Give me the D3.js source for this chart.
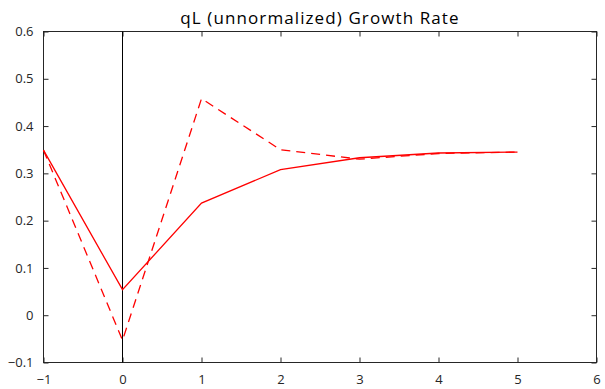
<!DOCTYPE html>
<html>
<head>
<meta charset="utf-8">
<script src="https://cdn.jsdelivr.net/npm/d3@7"></script>
<style>
  html, body { margin: 0; padding: 0; background: #fff; }
  svg { display: block; }
  text { font-family: "Open Sans", "Noto Sans", sans-serif; fill: #262626; }
</style>
</head>
<body>
<svg id="chart" width="605" height="389"></svg>
<script>
// Horizon (periods) and the two growth-rate paths
const periods = [-1, 0, 1, 2, 3, 4, 5];
const solidSeries = [0.349, 0.054, 0.237, 0.308, 0.333, 0.343, 0.345];
const dashedSeries = [0.349, -0.053, 0.458, 0.350, 0.330, 0.342, 0.345];
const xTicks = [-1, 0, 1, 2, 3, 4, 5, 6];
const yTicks = [-0.1, 0, 0.1, 0.2, 0.3, 0.4, 0.5, 0.6];
const titleText = "qL (unnormalized) Growth Rate";

const svg = d3.select("#chart");
const margin = { left: 43.5, top: 31.5, right: 596.5, bottom: 362.5 };

const x = d3.scaleLinear().domain([-1, 6]).range([margin.left, margin.right]);
const y = d3.scaleLinear().domain([-0.1, 0.6]).range([margin.bottom, margin.top]);

const axisColor = "#262626";
const tickLen = 5;

// Frame box
svg.append("rect")
  .attr("x", margin.left).attr("y", margin.top)
  .attr("width", margin.right - margin.left)
  .attr("height", margin.bottom - margin.top)
  .attr("fill", "none").attr("stroke", axisColor).attr("stroke-width", 1);

const fmt = d => (d === 0 ? "0" : d3.format("")(+d.toFixed(1)));

// Bottom axis (ticks point inward)
const gx = svg.append("g").attr("transform", `translate(0,${margin.bottom})`)
  .call(d3.axisBottom(x).tickValues(xTicks).tickSizeInner(-tickLen).tickSizeOuter(0).tickPadding(12).tickFormat(d3.format("d")));
// Top axis ticks
const gxt = svg.append("g").attr("transform", `translate(0,${margin.top})`)
  .call(d3.axisTop(x).tickValues(xTicks).tickSizeInner(-tickLen).tickSizeOuter(0).tickFormat(""));
// Left axis
const gy = svg.append("g").attr("transform", `translate(${margin.left},0)`)
  .call(d3.axisLeft(y).tickValues(yTicks).tickSizeInner(-tickLen).tickSizeOuter(0).tickPadding(10).tickFormat(fmt));
// Right axis ticks
const gyr = svg.append("g").attr("transform", `translate(${margin.right},0)`)
  .call(d3.axisRight(y).tickValues(yTicks).tickSizeInner(-tickLen).tickSizeOuter(0).tickFormat(""));

[gx, gxt, gy, gyr].forEach(g => {
  g.select(".domain").remove();
  g.selectAll(".tick line").attr("stroke", axisColor);
  g.selectAll(".tick text").attr("font-size", 13).attr("fill", axisColor)
    .style("font-family", "'Open Sans', 'Noto Sans', sans-serif");
});

// Vertical reference line at period 0
svg.append("line")
  .attr("x1", x(0)).attr("x2", x(0))
  .attr("y1", margin.top).attr("y2", margin.bottom)
  .attr("stroke", "#000").attr("stroke-width", 1);

const line = d3.line().x((d, i) => x(periods[i])).y(d => y(d));

svg.append("path").datum(solidSeries)
  .attr("d", line).attr("fill", "none")
  .attr("stroke", "#ff0000").attr("stroke-width", 1.3);

svg.append("path").datum(dashedSeries)
  .attr("d", line).attr("fill", "none")
  .attr("stroke", "#ff0000").attr("stroke-width", 1.3)
  .attr("stroke-dasharray", "9,6");

// Title
svg.append("text")
  .attr("x", (margin.left + margin.right) / 2).attr("y", 23.5)
  .attr("text-anchor", "middle").attr("font-size", 17)
  .attr("letter-spacing", 1.1)
  .attr("fill", "#000").style("fill", "#000")
  .text(titleText);
</script>
</body>
</html>
